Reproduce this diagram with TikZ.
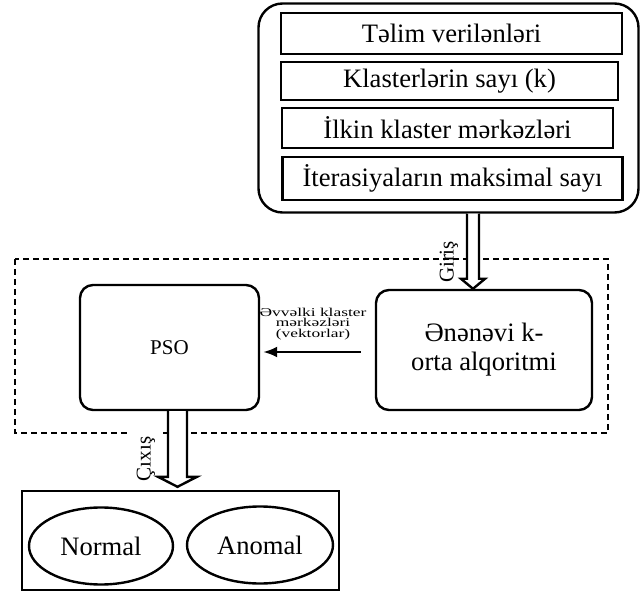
\documentclass[tikz,border=0pt]{standalone}
\usepackage{fontspec}
\setmainfont{Liberation Serif}
\usetikzlibrary{arrows.meta,positioning,calc,shapes.geometric}

\begin{document}
\begin{tikzpicture}[
    x=0.5pt,y=-0.5pt,
    every node/.style={font=\fontsize{13.3}{14.5}\selectfont},
    item/.style={draw,line width=1.2pt,inner sep=0pt},
    blk/.style={draw,line width=1.2pt,rounded corners=6.5pt,align=center,inner sep=0pt},
    oval/.style={draw,ellipse,line width=1.2pt,minimum width=72pt,minimum height=38.5pt,inner sep=0pt},
    hollow/.style={line width=1.2pt,fill=white,line join=miter},
    arr/.style={-{Latex[length=7pt,width=5.5pt]},line width=1.2pt},
    tag/.style={font=\fontsize{10.5}{12}\selectfont,rotate=90,inner sep=0pt}
  ]
    \useasboundingbox (0,0) rectangle (643,593);
    % dashed frame round the two blocks
    \draw[line width=0.7pt,dash pattern=on 3pt off 2pt] (15,259) rectangle (608,433);

    % input parameters
    \node[blk,rounded corners=12pt,minimum width=190pt,minimum height=104.5pt] (input) at (448.5,108) {};
    \node[item,minimum width=170.5pt,minimum height=20.5pt] (data) at (451.5,33.5) {Təlim verilənləri};
    \node[item,minimum width=168.5pt,minimum height=19pt] (num) at (449.5,81) {Klasterlərin sayı (k)};
    \node[item,minimum width=165.5pt,minimum height=20pt] (init) at (447.5,128) {İlkin klaster mərkəzləri};
    \node[item,minimum width=170pt,minimum height=21.5pt] (iter) at (452.5,178.5) {İterasiyaların maksimal sayı};

    % blocks
    \node[blk,minimum width=89.5pt,minimum height=62.5pt,font=\fontsize{10.5}{12}\selectfont] (pso) at (169.5,347.5) {PSO};
    \node[blk,minimum width=108pt,minimum height=60pt] (kmeans) at (484,350) {Ənənəvi k-\\orta alqoritmi};
    \draw[arr,shorten <=7pt,shorten >=1.5pt] ([yshift=-1pt]kmeans.west) -- ([yshift=-1pt]kmeans.west -| pso.east);
    \node[font=\fontsize{6}{5.3}\selectfont,xscale=1.45,align=center,inner sep=0pt] (prev) at (313,324) {Əvvəlki klaster\\mərkəzləri\\(vektorlar)};

    % input arrow
    \node[tag] (inlbl) at (449,262) {Giriş};
    \coordinate (gtop) at ($(input.south)+(24.5,0)$);
    \coordinate (gtip) at (gtop |- kmeans.north);
    \draw[hollow] ($(gtop)+(-3pt,0)$) -- ($(gtip)+(-3pt,5pt)$) -- ($(gtip)+(-6pt,5pt)$) -- (gtip)
      -- ($(gtip)+(6pt,5pt)$) -- ($(gtip)+(3pt,5pt)$) -- ($(gtop)+(3pt,0)$);

    % result
    \node[item,minimum width=158.5pt,minimum height=49.5pt] (res) at (180.5,540.5) {};
    \node[oval] (normal) at (101,546) {Normal};
    \node[oval,minimum width=73pt] (anom) at (260,545) {Anomal};

    % output arrow
    \node[tag,fill=white,inner sep=4pt] (outlbl) at (146,459) {Çıxış};
    \coordinate (ctop) at ($(pso.south)+(8,0)$);
    \coordinate (ctip) at ($(ctop |- res.north)+(0,1.5pt)$);
    \draw[hollow] ($(ctop)+(-4.75pt,0)$) -- ($(ctip)+(-4.75pt,5pt)$) -- ($(ctip)+(-9.75pt,5pt)$) -- (ctip)
      -- ($(ctip)+(9.75pt,5pt)$) -- ($(ctip)+(4.75pt,5pt)$) -- ($(ctop)+(4.75pt,0)$);
  \end{tikzpicture}
\end{document}
